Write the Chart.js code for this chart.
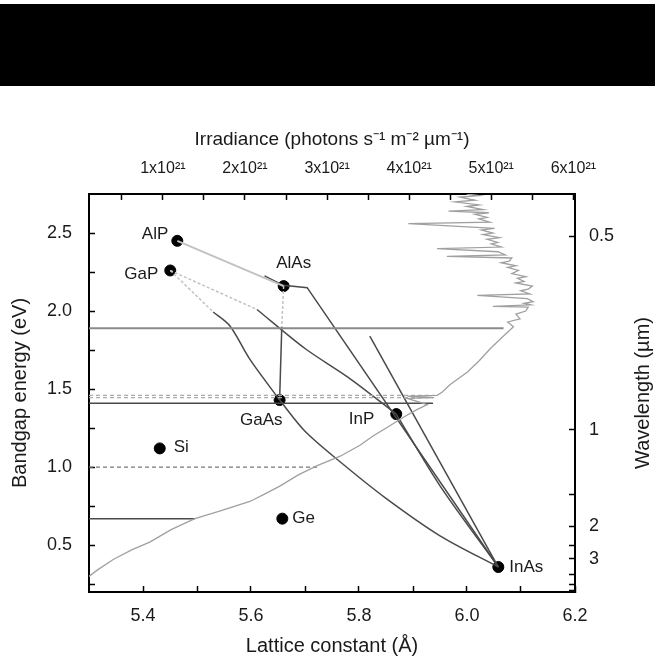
<!DOCTYPE html>
<html>
<head>
<meta charset="utf-8">
<script src="https://cdn.jsdelivr.net/npm/chart.js@4"></script>
<style>
  body { margin: 0; background: #fff; }
  #wrap { position: relative; width: 655px; height: 662px; }
  #band { position: absolute; left: 0; top: 4px; width: 655px; height: 82px; background: #000; }
</style>
</head>
<body>
<div id="wrap">
  <canvas id="chart" width="655" height="662"></canvas>
  <div id="band"></div>
</div>
<script>
// Materials: lattice constant (Å) and bandgap (eV)
const materials = ['AlP', 'GaP', 'AlAs', 'GaAs', 'InP', 'InAs', 'Si', 'Ge'];
const latticeConst = [5.4635, 5.4505, 5.6605, 5.653, 5.869, 6.058, 5.431, 5.658];
const bandgap = [2.45, 2.26, 2.16, 1.43, 1.34, 0.36, 1.12, 0.67];

// Alloy curves (lattice constant, bandgap)
const alpAlasA = [5.4635, 5.6605];             const alpAlasE = [2.45, 2.16];
const alasInasA = [5.625, 5.66, 5.704, 6.058];  const alasInasE = [2.225, 2.165, 2.15, 0.36];
const gapInpIndA = [5.4505, 5.611];            const gapInpIndE = [2.26, 2.01];
const gapInpDirA = [5.611, 5.70, 5.78, 5.869]; const gapInpDirE = [2.01, 1.76, 1.575, 1.34];
const gapGaasIndA = [5.4505, 5.53];            const gapGaasIndE = [2.26, 1.994];
const gapGaasDirA = [5.53, 5.561, 5.598, 5.653]; const gapGaasDirE = [1.994, 1.904, 1.69, 1.43];
const alasGaasIndA = [5.6605, 5.657];          const alasGaasIndE = [2.16, 1.90];
const alasGaasDirA = [5.657, 5.653];           const alasGaasDirE = [1.90, 1.43];
const gaasInasA = [5.653, 5.70, 5.77, 5.85, 5.95, 6.058]; const gaasInasE = [1.43, 1.23, 1.02, 0.80, 0.56, 0.36];
const inpInasA = [5.869, 5.95, 6.058];         const inpInasE = [1.34, 0.88, 0.36];
const upperInasA = [5.82, 6.058];              const upperInasE = [1.84, 0.36];

// Cell bandgap levels, running to the spectrum (irradiance, 1e21)
const solidGaps = [1.89, 1.41, 0.67];
const solidGapEnd = [5.15, 4.29, 1.39];
const dashedGaps = [1.0, 1.445, 1.46];
const dashedGapEnd = [2.88, 4.30, 4.32];

// Solar spectrum: irradiance (1e21 photons s-1 m-2 um-1) vs photon energy (eV)
const spectrumIrr = [0.10, 0.20, 0.40, 0.62, 0.84, 1.10, 1.39, 1.70, 2.06, 2.25, 2.43, 2.65, 2.88, 3.16, 3.40, 3.56,
  3.75, 3.93, 4.10, 4.22, 3.98, 4.30, 3.98, 4.34, 4.40, 4.50, 4.71, 4.85, 4.99, 5.13,
  5.27, 5.20, 5.35, 5.30, 5.42, 5.45, 5.02, 5.48, 5.40, 5.51, 5.44, 4.83, 5.47, 5.36, 5.45, 5.50,
  5.30, 5.40, 5.32, 5.42, 5.25, 5.33, 5.20, 5.30, 5.12, 5.22, 5.25, 4.46, 5.17, 5.08, 4.34, 5.12,
  5.00, 5.08, 4.95, 5.10, 4.90, 5.02, 4.88, 5.04, 3.99, 4.98, 4.85, 4.95, 4.80, 4.97, 4.48, 4.90,
  4.70, 4.85, 4.56, 4.80, 4.62, 4.85, 4.70];
const spectrumE = [0.30, 0.34, 0.41, 0.47, 0.52, 0.60, 0.67, 0.72, 0.78, 0.83, 0.88, 0.95, 1.01, 1.07, 1.14, 1.20,
  1.26, 1.32, 1.37, 1.40, 1.44, 1.445, 1.455, 1.46, 1.48, 1.53, 1.61, 1.68, 1.76, 1.83,
  1.90, 1.93, 1.95, 1.98, 2.00, 2.025, 2.03, 2.04, 2.05, 2.06, 2.08, 2.10, 2.11, 2.13, 2.14, 2.16,
  2.18, 2.19, 2.21, 2.22, 2.24, 2.26, 2.28, 2.29, 2.31, 2.32, 2.34, 2.35, 2.36, 2.38, 2.40, 2.41,
  2.43, 2.44, 2.46, 2.47, 2.49, 2.50, 2.52, 2.53, 2.56, 2.57, 2.59, 2.60, 2.62, 2.63, 2.64, 2.65,
  2.67, 2.68, 2.70, 2.71, 2.73, 2.74, 2.75];

// Tick values
const latticeTicks = [5.4, 5.5, 5.6, 5.7, 5.8, 5.9, 6.0, 6.1, 6.2];
const energyTicks = [0.25, 0.5, 0.75, 1.0, 1.25, 1.5, 1.75, 2.0, 2.25, 2.5];
const irrTicks = [0.5, 1, 1.5, 2, 2.5, 3, 3.5, 4, 4.5, 5, 5.5, 6];
const waveTicks = [0.5, 1, 1.5, 2, 2.5, 3, 4, 5, 6];
const waveLabels = ['0.5', '1', '', '2', '', '3', '', '', ''];

const textColor = '#1a1a1a';
Chart.defaults.font.family = "'Liberation Sans', Arial, sans-serif";
Chart.defaults.color = textColor;

function pts(xs, ys) {
  return xs.map((x, i) => ({ x: x, y: ys[i] }));
}

function lineSet(xs, ys, color, width, dash, axis, tension) {
  return {
    data: pts(xs, ys),
    showLine: true,
    borderColor: color,
    borderWidth: width,
    borderDash: dash || [],
    pointRadius: 0,
    tension: tension || 0,
    xAxisID: axis || 'x',
    yAxisID: 'y'
  };
}

const datasets = [];

// spectrum
datasets.push(lineSet(spectrumIrr, spectrumE, '#a0a0a0', 1.3, null, 'x2'));

// bandgap levels
const solidColors = ['#8a8a8a', '#4a4a4a', '#4a4a4a'];
solidGaps.forEach((g, i) => {
  datasets.push(lineSet([0.1, solidGapEnd[i]], [g, g], solidColors[i], i === 0 ? 2 : 1.5, null, 'x2'));
});
const dashedColors = ['#777', '#aaa', '#aaa'];
dashedGaps.forEach((g, i) => {
  datasets.push(lineSet([0.1, dashedGapEnd[i]], [g, g], dashedColors[i], 1.2, [4, 3], 'x2'));
});

// alloy curves
const lightLine = '#c2c2c2';
const darkLine = '#4a4a4a';
datasets.push(lineSet(alpAlasA, alpAlasE, lightLine, 2));
datasets.push(lineSet(gapInpIndA, gapInpIndE, lightLine, 1.5, [3, 2]));
datasets.push(lineSet(gapGaasIndA, gapGaasIndE, lightLine, 1.5, [3, 2]));
datasets.push(lineSet(alasGaasIndA, alasGaasIndE, lightLine, 1.5, [3, 2]));
datasets.push(lineSet(alasInasA, alasInasE, darkLine, 1.5));
datasets.push(lineSet(gapInpDirA, gapInpDirE, darkLine, 1.5, null, 'x', 0.3));
datasets.push(lineSet(gapGaasDirA, gapGaasDirE, darkLine, 1.5, null, 'x', 0.3));
datasets.push(lineSet(alasGaasDirA, alasGaasDirE, darkLine, 1.5));
datasets.push(lineSet(gaasInasA, gaasInasE, darkLine, 1.5, null, 'x', 0.3));
datasets.push(lineSet(inpInasA, inpInasE, darkLine, 1.5, null, 'x', 0.3));
datasets.push(lineSet(upperInasA, upperInasE, darkLine, 1.5));

// material points
datasets.push({
  data: pts(latticeConst, bandgap),
  showLine: false,
  pointRadius: 5.5,
  pointBackgroundColor: '#000',
  pointBorderColor: '#000',
  xAxisID: 'x',
  yAxisID: 'y'
});

// label placement next to each point: dx, dy (px) and alignment
const labelPlacement = {
  AlP: [-9, -7, 'right'], GaP: [-12, 4, 'right'], AlAs: [10, -23, 'center'], GaAs: [3, 20, 'right'],
  InP: [-22, 5, 'right'], InAs: [11, 0, 'left'], Si: [14, -1, 'left'], Ge: [10, 0, 'left']
};

const pointLabels = {
  id: 'pointLabels',
  afterDatasetsDraw(chart) {
    const ctx = chart.ctx;
    const xs = chart.scales.x, ys = chart.scales.y;
    ctx.save();
    ctx.font = "17px 'Liberation Sans', Arial, sans-serif";
    ctx.fillStyle = textColor;
    ctx.textBaseline = 'middle';
    materials.forEach((m, i) => {
      const p = labelPlacement[m];
      ctx.textAlign = p[2];
      ctx.fillText(m, xs.getPixelForValue(latticeConst[i]) + p[0], ys.getPixelForValue(bandgap[i]) + p[1]);
    });
    ctx.restore();
  }
};

const rightTitle = {
  id: 'rightTitle',
  afterDraw(chart) {
    const ctx = chart.ctx, a = chart.chartArea;
    ctx.save();
    ctx.translate(643, (a.top + a.bottom) / 2);
    ctx.rotate(-Math.PI / 2);
    ctx.font = "20px 'Liberation Sans', Arial, sans-serif";
    ctx.fillStyle = textColor;
    ctx.textAlign = 'center';
    ctx.textBaseline = 'middle';
    ctx.fillText('Wavelength (µm)', 0, 0);
    ctx.restore();
  }
};

const tickGrid = { drawOnChartArea: false, tickLength: -6, tickColor: '#000', tickWidth: 1.5 };
const frame = { color: '#000', width: 2 };

new Chart(document.getElementById('chart'), {
  type: 'scatter',
  data: { datasets: datasets },
  options: {
    responsive: false,
    animation: false,
    layout: { padding: { top: 120, left: 0, right: 0, bottom: 0 } },
    plugins: { legend: { display: false }, tooltip: { enabled: false } },
    scales: {
      x: {
        type: 'linear', position: 'bottom', min: 5.3, max: 6.2,
        afterBuildTicks: s => { s.ticks = latticeTicks.map(v => ({ value: v })); },
        afterFit: s => { s.height = 70; },
        ticks: {
          autoSkip: false, maxRotation: 0, padding: 19, font: { size: 18 },
          callback: v => Math.round(v * 10) % 2 === 0 ? v.toFixed(1) : ''
        },
        grid: tickGrid, border: frame,
        title: { display: true, text: 'Lattice constant (Å)', font: { size: 20 }, padding: { top: 0, bottom: 4 } }
      },
      x2: {
        type: 'linear', position: 'top', min: 0.1, max: 6.02,
        afterBuildTicks: s => { s.ticks = irrTicks.map(v => ({ value: v })); },
        afterFit: s => { s.height = 74; },
        ticks: {
          autoSkip: false, maxRotation: 0, padding: 22, font: { size: 16 },
          callback: v => Number.isInteger(v) ? v + 'x10²¹' : ''
        },
        grid: tickGrid, border: frame,
        title: { display: true, text: 'Irradiance (photons s⁻¹ m⁻² µm⁻¹)', font: { size: 19 }, padding: { top: 8, bottom: 0 } }
      },
      y: {
        type: 'linear', position: 'left', min: 0.2, max: 2.75,
        afterBuildTicks: s => { s.ticks = energyTicks.map(v => ({ value: v })); },
        afterFit: s => { s.width = 89; },
        ticks: {
          autoSkip: false, padding: 23, font: { size: 18 },
          callback: v => Math.round(v * 4) % 2 === 0 ? v.toFixed(1) : ''
        },
        grid: tickGrid, border: frame,
        title: { display: true, text: 'Bandgap energy (eV)', font: { size: 20 }, padding: { top: 8, bottom: 0 } }
      },
      y2: {
        type: 'linear', position: 'right', min: 0.2, max: 2.75,
        afterBuildTicks: s => { s.ticks = waveTicks.map(w => ({ value: 1.24 / w })); },
        afterFit: s => { s.width = 80; },
        ticks: {
          autoSkip: false, padding: 20, font: { size: 18 },
          callback: (v, i) => waveLabels[i]
        },
        grid: tickGrid, border: frame
      }
    }
  },
  plugins: [pointLabels, rightTitle]
});
</script>
</body>
</html>
